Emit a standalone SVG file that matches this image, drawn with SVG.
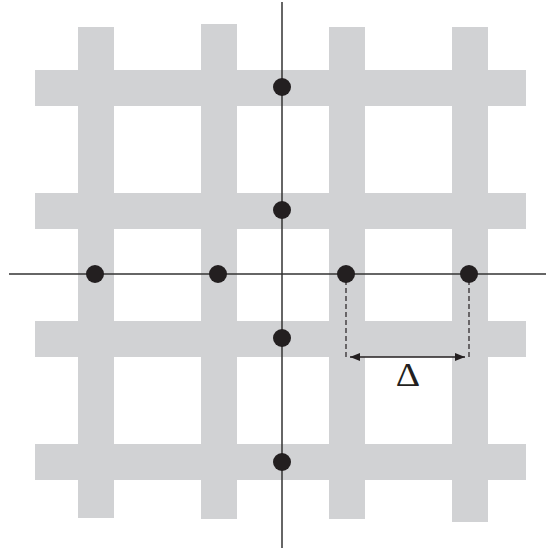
<svg xmlns="http://www.w3.org/2000/svg" width="547" height="552" viewBox="0 0 547 552">
<defs>
<style>
.bar{fill:#d1d2d4}
.axis{stroke:#333;stroke-width:1.5;fill:none}
.dot{fill:#231f20}
.dash{stroke:#231f20;stroke-width:1.2;stroke-dasharray:5,3;fill:none}
.dim{stroke:#231f20;stroke-width:1.5;fill:none}
.lbl{font-family:"Liberation Serif",serif;font-size:33px;fill:#231f20}
</style>
<marker id="ah" viewBox="0 0 10 8" refX="10" refY="4" markerWidth="10" markerHeight="8" orient="auto-start-reverse" markerUnits="userSpaceOnUse">
<path d="M0,0 L10,4 L0,8 Z" fill="#231f20"/>
</marker>
</defs>
<g id="grid">
<rect class="bar" x="78" y="27" width="36" height="491"/>
<rect class="bar" x="201" y="24" width="36" height="495"/>
<rect class="bar" x="329" y="27" width="36" height="492"/>
<rect class="bar" x="452" y="27" width="36" height="495"/>
<rect class="bar" x="35" y="70" width="491" height="36"/>
<rect class="bar" x="35" y="193" width="491" height="36"/>
<rect class="bar" x="35" y="321" width="491" height="36"/>
<rect class="bar" x="35" y="444" width="491" height="36"/>
</g>
<g id="connectors">
<line class="axis" x1="9" y1="274" x2="546" y2="274"/>
<line class="axis" x1="282" y1="2" x2="282" y2="548"/>
<line class="dash" x1="346" y1="280" x2="346" y2="358"/>
<line class="dash" x1="469" y1="280" x2="469" y2="358"/>
<line class="dim" x1="350" y1="357" x2="465" y2="357" marker-start="url(#ah)" marker-end="url(#ah)"/>
</g>
<g id="points">
<circle class="dot" cx="282" cy="87" r="9"/>
<circle class="dot" cx="282" cy="210" r="9"/>
<circle class="dot" cx="282" cy="338" r="9"/>
<circle class="dot" cx="282" cy="462" r="9"/>
<circle class="dot" cx="95" cy="274" r="9"/>
<circle class="dot" cx="218" cy="274" r="9"/>
<circle class="dot" cx="346" cy="274" r="9"/>
<circle class="dot" cx="469" cy="274" r="9"/>
</g>
<g id="label">
<text class="lbl" transform="translate(408,386) scale(1.15,1)" x="0" y="0" text-anchor="middle">Δ</text>
</g>
</svg>
